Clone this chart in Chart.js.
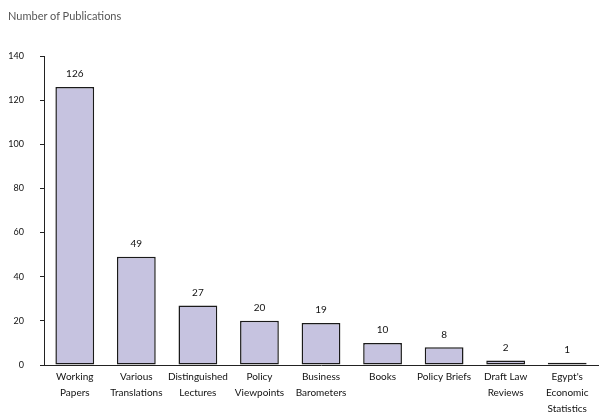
<!DOCTYPE html>
<html>
<head>
<meta charset="utf-8">
<script src="https://cdn.jsdelivr.net/npm/chart.js@4"></script>
<style>
    html, body { margin: 0; padding: 0; background: #fff; }
    #wrap { width: 602px; height: 414px; position: relative; }
    #title {
        position: absolute; left: 8px; top: 9px;
        font: 11px Lato, "DejaVu Sans", sans-serif; color: #555;
    }
</style>
</head>
<body>
<div id="wrap">
    <div id="title">Number of Publications</div>
    <canvas id="pubChart"></canvas>
</div>
<script>
const categories = [
    ['Working', 'Papers'],
    ['Various', 'Translations'],
    ['Distinguished', 'Lectures'],
    ['Policy', 'Viewpoints'],
    ['Business', 'Barometers'],
    'Books',
    'Policy Briefs',
    ['Draft Law', 'Reviews'],
    ["Egypt's", 'Economic', 'Statistics']
];
const publications = [126, 49, 27, 20, 19, 10, 8, 2, 1];
const yTicks = [0, 20, 40, 60, 80, 100, 120, 140];

// value labels above each bar
const barValues = {
    id: 'barValues',
    afterDatasetsDraw(chart) {
        const ctx = chart.ctx;
        const meta = chart.getDatasetMeta(0);
        ctx.save();
        ctx.font = '10px Lato, "DejaVu Sans", sans-serif';
        ctx.fillStyle = '#111';
        ctx.textAlign = 'center';
        ctx.textBaseline = 'bottom';
        meta.data.forEach(function (bar, i) {
            ctx.fillText(publications[i], bar.x, bar.y - 8);
        });
        ctx.restore();
    }
};

new Chart(document.getElementById('pubChart'), {
    type: 'bar',
    data: {
        labels: categories,
        datasets: [{
            label: 'Number of Publications',
            data: publications,
            backgroundColor: '#c6c3e0',
            borderColor: '#1a1a1a',
            borderWidth: 1.5,
            borderSkipped: false,
            barPercentage: 0.63,
            categoryPercentage: 1
        }]
    },
    options: {
        responsive: true,
        maintainAspectRatio: false,
        animation: false,
        layout: { padding: { left: 0, right: 4, top: 56, bottom: 0 } },
        scales: {
            x: {
                afterFit: function (scale) { scale.height = 49; },
                grid: { display: false, drawTicks: false },
                border: { color: '#222', width: 1 },
                ticks: {
                    color: '#111',
                    font: { family: 'Lato, "DejaVu Sans", sans-serif', size: 10, lineHeight: 1.6 },
                    maxRotation: 0,
                    autoSkip: false,
                    padding: 4
                }
            },
            y: {
                min: 0,
                max: 140,
                afterFit: function (scale) { scale.width = 44; },
                afterBuildTicks: function (scale) {
                    scale.ticks = yTicks.map(function (v) { return { value: v }; });
                },
                grid: {
                    display: true,
                    drawOnChartArea: false,
                    drawTicks: true,
                    tickLength: 4,
                    color: '#222'
                },
                border: { color: '#222', width: 1 },
                ticks: {
                    color: '#111',
                    font: { family: 'Lato, "DejaVu Sans", sans-serif', size: 9 },
                    padding: 16
                }
            }
        },
        plugins: {
            legend: { display: false },
            tooltip: { enabled: false }
        }
    },
    plugins: [barValues]
});
</script>
</body>
</html>
